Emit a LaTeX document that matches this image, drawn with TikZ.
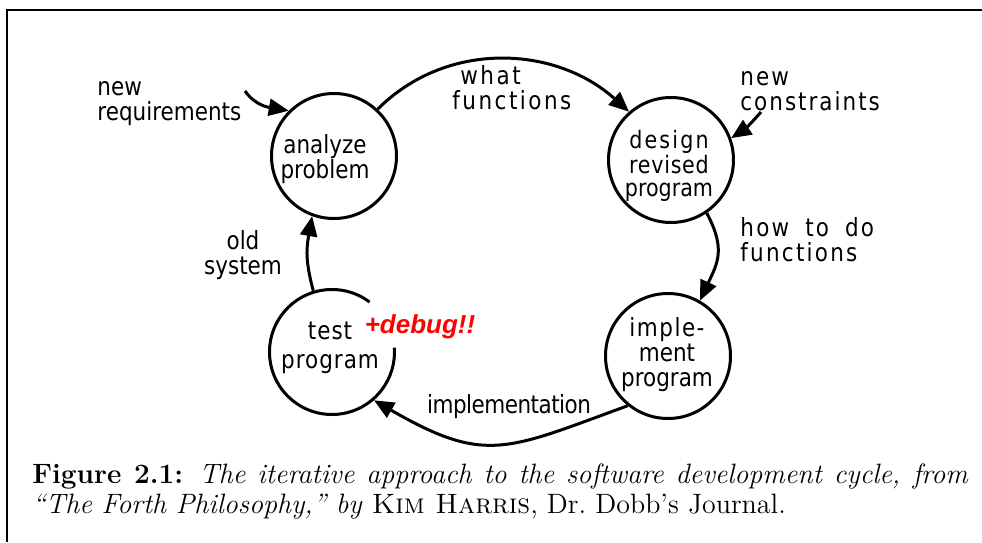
\documentclass[tikz,border=0pt]{standalone}
\usepackage{fontspec}
\usetikzlibrary{arrows.meta}
\newfontfamily\handfont{DejaVu Sans}[FakeStretch=0.86]
\newfontfamily\debugfont{Liberation Sans}
\newcommand\spaced[1]{\addfontfeature{LetterSpace=#1}}

\begin{document}
\begin{tikzpicture}[x=0.5pt,y=-0.5pt,
  stage/.style={circle, minimum size=62.5pt, inner sep=0pt, line width=1.5pt},
  hand/.style={font=\handfont\fontsize{12.5}{12.5}\selectfont, inner sep=0pt},
  flow/.style={line width=1.5pt, -{Triangle[length=10pt,width=8.5pt]}},
  capfont/.style={font=\fontsize{14}{15}\selectfont, inner sep=0pt, anchor=base west},
]
\useasboundingbox (0,0) rectangle (982,542);

% frame
\draw[line width=1pt] (7,542) -- (7,10) -- (982,10);

% the four stages of the cycle
\node[stage, draw] (an) at (334,156) {};
\node[stage, draw] (de) at (671,160) {};
\node[stage, draw] (im) at (668,356) {};
\node[stage] (te) at (332,352) {};
\draw[line width=1.5pt] ([shift={(53:31.25pt)}]te.center) arc[start angle=53, end angle=364, radius=31.25pt];

\node[hand, align=center] (tan) at (325,159) {analyze\\problem};
\node[hand, align=center, font=\handfont\fontsize{12}{11.6}\selectfont] (tde) at (669,166) {{\spaced{9}design}\\{\spaced{3}revised}\\program};
\node[hand, align=center] (tim) at (667,355) {{\spaced{6}imple-}\\ment\\program};
\node[hand, align=center, font=\handfont\fontsize{12.5}{14.5}\selectfont\spaced{4}] (tte) at (330,348) {test\\program};
\node[inner sep=0pt, text=red, font=\debugfont\fontsize{13}{13}\selectfont\bfseries\itshape] (dbg) at (420,327) {+debug!!};

% cycle connectors
\draw[flow] (an.47) to[out=45, in=138] (de.131);
\draw[flow] (de.-56) to[out=-62, in=65, looseness=1.2] (im.60);
\draw[flow] (im.231) to[out=200, in=-30, looseness=1.3] (te.-49);
\draw[flow] (te.107) to[out=105, in=-100, looseness=1.1] (an.250);

% inputs
\coordinate (nr) at (245,91);
\coordinate (nc) at (761,112);
\draw[flow] (nr) to[out=-55, in=170] (an.135);
\draw[flow] (nc) to[bend left=8] (de.20);

% connector labels
\node[hand, align=left, anchor=west] (lnr) at (97,104) {new\\requirements};
\node[hand, align=left, anchor=west, font=\handfont\fontsize{12.5}{12.5}\selectfont\spaced{10}] (lwf) at (452,88) {\hspace*{4pt}what\\functions};
\node[hand, align=left, anchor=west, font=\handfont\fontsize{12.5}{12.5}\selectfont\spaced{8}] (lnc) at (740,91) {new\\constraints};
\node[hand, align=left, anchor=west, font=\handfont\fontsize{12.5}{12.5}\selectfont\spaced{9}] (lhf) at (740,240) {how\hspace{8pt}to\hspace{8pt}do\\functions};
\node[hand, align=center] (los) at (243,255) {old\\system};
\node[hand, font=\handfont\fontsize{12.5}{12.5}\selectfont\spaced{-2}] (lim) at (509,407) {implementation};

% caption
\node[capfont] (cap1) at (32,483) {\makebox[468pt][s]{\textbf{Figure 2.1:} \textit{The iterative approach to the software development cycle, from}}};
\node[capfont] (cap2) at (32,513) {\textit{``The Forth Philosophy,''\ by} \textsc{Kim Harris}, Dr.\ Dobb's Journal.};
\end{tikzpicture}
\end{document}
